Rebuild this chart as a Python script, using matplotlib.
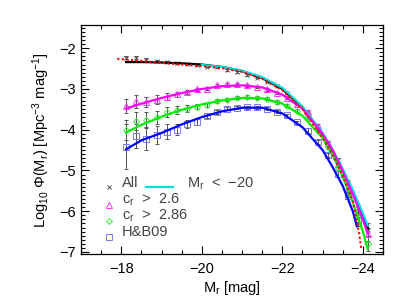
import numpy as np
import matplotlib
matplotlib.use("Agg")
import matplotlib.pyplot as plt
from matplotlib.ticker import MultipleLocator

plt.rcParams['font.family'] = ['Liberation Sans', 'DejaVu Sans']
plt.rcParams['mathtext.fontset'] = 'custom'
plt.rcParams['mathtext.rm'] = 'Liberation Sans'
plt.rcParams['mathtext.it'] = 'Liberation Sans'

# magnitude bins of the measured points
mag_bins = [-18.125, -18.375, -18.625, -18.875, -19.125, -19.375, -19.625, -19.875,
            -20.125, -20.375, -20.625, -20.875, -21.125, -21.375, -21.625, -21.875,
            -22.125, -22.375, -22.625, -22.875, -23.125, -23.375, -23.625, -23.875,
            -24.125]

all_pts = [-2.23, -2.23, -2.28, -2.32, -2.34, -2.37, -2.38, -2.41, -2.45, -2.46, -2.53, -2.58,
           -2.65, -2.72, -2.82, -2.93, -3.11, -3.36, -3.62, -3.97, -4.33, -4.75, -5.30, -5.92, -6.45]
all_err = [0.04, 0.03, 0.03, 0.03, 0.02, 0.02, 0.02, 0.02, 0.02, 0.02, 0.02, 0.02, 0.02,
           0.02, 0.02, 0.02, 0.02, 0.02, 0.03, 0.03, 0.04, 0.05, 0.07, 0.10, 0.15]

c26_pts = [-3.42, -3.30, -3.32, -3.26, -3.19, -3.13, -3.07, -3.01, -2.99, -2.91, -2.89, -2.89,
           -2.91, -2.95, -3.01, -3.10, -3.21, -3.36, -3.56, -3.90, -4.32, -4.85, -5.42, -6.00, -6.57]
c26_err = [0.18, 0.16, 0.12, 0.10, 0.08, 0.06, 0.05, 0.04, 0.04, 0.03, 0.03, 0.03, 0.03,
           0.03, 0.03, 0.03, 0.03, 0.03, 0.04, 0.04, 0.05, 0.06, 0.08, 0.10, 0.15]

c286_pts = [-4.00, -3.79, -3.76, -3.70, -3.56, -3.52, -3.48, -3.44, -3.40, -3.29, -3.26, -3.21,
            -3.20, -3.21, -3.24, -3.32, -3.41, -3.53, -3.70, -4.00, -4.42, -4.95, -5.55, -6.15, -6.80]
c286_err = [0.25, 0.22, 0.20, 0.15, 0.12, 0.10, 0.08, 0.06, 0.05, 0.05, 0.04, 0.04, 0.04,
            0.04, 0.04, 0.04, 0.04, 0.04, 0.04, 0.05, 0.06, 0.07, 0.09, 0.12, 0.18]

hb09_pts = [-4.42, -4.16, -4.22, -4.12, -4.05, -4.00, -3.86, -3.80, -3.66, -3.56, -3.48, -3.46,
            -3.45, -3.45, -3.48, -3.56, -3.65, -3.82, -4.02, -4.29, -4.62, -5.08, -5.62, -6.25, np.nan]
hb09_err = [0.55, 0.30, 0.28, 0.22, 0.18, 0.14, 0.10, 0.08, 0.06, 0.05, 0.04, 0.04, 0.04,
            0.04, 0.04, 0.04, 0.04, 0.04, 0.05, 0.05, 0.06, 0.07, 0.09, 0.12, np.nan]

# fitted curves
fit_mag = [-18.12, -18.5, -19.0, -19.5, -20.0, -20.5, -21.0, -21.5, -22.0, -22.5, -23.0,
           -23.25, -23.5, -23.75, -24.0, -24.12]
fit_all = [-2.34, -2.34, -2.35, -2.37, -2.40, -2.46, -2.56, -2.73, -3.00, -3.46, -4.12,
           -4.53, -5.00, -5.52, -6.10, -6.42]
fit_c26 = [-3.48, -3.36, -3.22, -3.10, -3.00, -2.93, -2.91, -2.96, -3.14, -3.48, -4.10,
           -4.50, -5.02, -5.58, -6.20, -6.55]
fit_c286 = [-4.07, -3.88, -3.68, -3.51, -3.38, -3.28, -3.22, -3.23, -3.36, -3.66, -4.20,
            -4.62, -5.15, -5.78, -6.50, -6.93]

bright_mag = [-20.0, -20.5, -21.0, -21.5, -22.0, -22.5, -23.0, -23.25, -23.5, -23.75, -24.0, -24.12]
fit_bright = [-2.41, -2.46, -2.55, -2.71, -2.97, -3.43, -4.08, -4.49, -4.96, -5.48, -6.05, -6.35]

hb_mag = [-18.12, -18.5, -19.0, -19.5, -20.0, -20.5, -21.0, -21.5, -22.0, -22.5, -23.0,
          -23.25, -23.5, -23.75, -23.85]
fit_hb = [-4.48, -4.26, -4.08, -3.87, -3.69, -3.55, -3.46, -3.46, -3.60, -3.94, -4.50,
          -4.92, -5.38, -6.00, -6.37]

dot_mag = [-17.9, -18.5, -19.0, -19.5, -20.0, -20.5, -21.0, -21.5, -22.0, -22.5, -23.0,
           -23.25, -23.5, -23.75, -23.9, -23.96]
dot_all = [-2.26, -2.31, -2.36, -2.40, -2.44, -2.49, -2.58, -2.75, -3.03, -3.50, -4.20,
           -4.62, -5.12, -5.75, -6.50, -6.92]

fig = plt.figure(figsize=(4.07, 3.06), dpi=100)
ax = fig.add_axes([81/407, 1-254/306, 302/407, 229/306])

ebar = dict(ecolor='#555555', elinewidth=0.7, capsize=1.2, capthick=0.7, ls='none')
ax.errorbar(mag_bins, all_pts, yerr=all_err, marker='x', ms=3.5, mew=0.7, color='#555555', **ebar)
ax.errorbar(mag_bins, c26_pts, yerr=c26_err, marker='^', ms=4, mew=0.7, mfc='none', mec='#ff33ff', **ebar)
ax.errorbar(mag_bins, c286_pts, yerr=c286_err, marker='D', ms=3, mew=0.7, mfc='none', mec='#33ee33', **ebar)
ax.errorbar(mag_bins, hb09_pts, yerr=hb09_err, marker='s', ms=4.5, mew=0.7, mfc='none', mec='#7777ff', **ebar)

ax.plot(fit_mag, fit_all, color='black', lw=1.6, zorder=4)
ax.plot(bright_mag, fit_bright, color='#00e0e0', lw=1.6, zorder=4)
ax.plot(fit_mag, fit_c26, color='#ff00ff', lw=1.6, zorder=4)
ax.plot(fit_mag, fit_c286, color='#00ee00', lw=1.6, zorder=4)
ax.plot(hb_mag, fit_hb, color='#0000ff', lw=1.6, zorder=4)
ax.plot(dot_mag, dot_all, color='red', lw=1.5, ls=(0, (1, 1.2)), zorder=5)

ax.set_xlim(-17, -24.5)
ax.set_ylim(-7.05, -1.43)
ax.xaxis.set_major_locator(MultipleLocator(2))
ax.xaxis.set_minor_locator(MultipleLocator(0.5))
ax.yaxis.set_major_locator(MultipleLocator(1))
ax.yaxis.set_minor_locator(MultipleLocator(0.1))
ax.tick_params(which='both', direction='in', top=True, right=True, labelsize=10.5, width=0.8)
ax.tick_params(which='major', length=6)
ax.tick_params(which='minor', length=3)
ax.tick_params(axis='x', pad=6)
ax.tick_params(axis='y', pad=4)
for s in ax.spines.values():
    s.set_linewidth(0.9)

fig.text(232/407, 1-288/306, 'M$_r$ [mag]', ha='center', va='center', fontsize=10.5)
fig.text(41/407, 1-140/306, 'Log$_{10}$ \u03a6(M$_r$) [Mpc$^{-3}$ mag$^{-1}$]',
         ha='center', va='center', rotation=90, fontsize=10.5)

# hand-placed legend
tc = '#444444'
leg_mx = 0.094
leg_tx = 0.135
ax.plot([leg_mx], [0.292], 'x', ms=3.5, mew=0.7, color='#555555', transform=ax.transAxes)
ax.text(leg_tx, 0.308, 'All', transform=ax.transAxes, va='center', fontsize=10.5, color=tc)
ax.plot([0.215, 0.306], [0.294, 0.294], color='#00e0e0', lw=1.6, transform=ax.transAxes)
ax.text(0.35, 0.308, 'M$_r$  <  \u221220', transform=ax.transAxes, va='center', fontsize=10.5, color=tc)
ax.plot([leg_mx], [0.214], '^', ms=4, mew=0.7, mfc='none', mec='#ff33ff', transform=ax.transAxes)
ax.text(leg_tx, 0.236, 'c$_r$  >  2.6', transform=ax.transAxes, va='center', fontsize=10.5, color=tc)
ax.plot([leg_mx], [0.145], 'D', ms=3, mew=0.7, mfc='none', mec='#33ee33', transform=ax.transAxes)
ax.text(leg_tx, 0.167, 'c$_r$  >  2.86', transform=ax.transAxes, va='center', fontsize=10.5, color=tc)
ax.plot([leg_mx], [0.073], 's', ms=4.5, mew=0.7, mfc='none', mec='#7777ff', transform=ax.transAxes)
ax.text(leg_tx, 0.097, 'H&B09', transform=ax.transAxes, va='center', fontsize=10.5, color=tc)

fig.savefig('out.png', dpi=100)
